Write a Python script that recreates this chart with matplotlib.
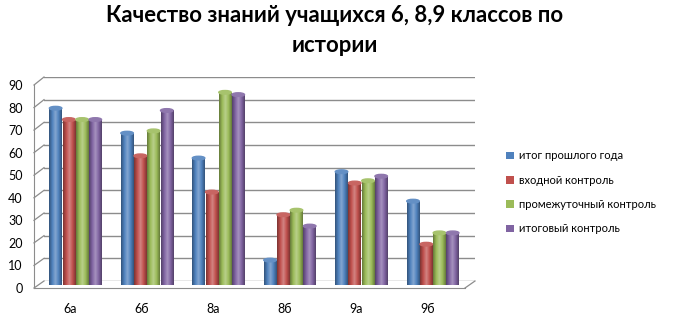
import numpy as np
import matplotlib
matplotlib.use("Agg")
import matplotlib.pyplot as plt
from matplotlib.colors import LinearSegmentedColormap, to_rgb
from matplotlib.patches import Ellipse
from matplotlib.lines import Line2D

categories = ["6а", "6б", "8а", "8б", "9а", "9б"]
series_names = ["итог прошлого года", "входной контроль", "промежуточный контроль", "итоговый контроль"]
itog_proshlogo = [78, 67, 56, 11, 50, 37]
vhodnoy = [73, 57, 41, 31, 45, 18]
promezhut = [73, 68, 85, 33, 46, 23]
itogovy = [73, 77, 84, 26, 48, 23]
series = [itog_proshlogo, vhodnoy, promezhut, itogovy]
colors = ["#4F81BD", "#C0504D", "#9BBB59", "#8064A2"]
yticks = list(range(0, 91, 10))

plt.rcParams["font.family"] = ["Lato", "DejaVu Sans"]

W, H = 680, 323
fig = plt.figure(figsize=(W / 100, H / 100), dpi=100)


def rect(x0, x1, ybot, ytop):
    return [x0 / W, (H - ybot) / H, (x1 - x0) / W, (ybot - ytop) / H]


XLIM = (-0.51, 5.52)
YLIM = (0, 90)
GRID = "#8C8C8C"

# back wall (gridlines)
ax_back = fig.add_axes(rect(44, 475, 281, 77), zorder=0)
ax_back.set_xlim(*XLIM)
ax_back.set_ylim(*YLIM)
ax_back.set_yticks(yticks)
ax_back.set_xticks([])
ax_back.grid(axis="y", color=GRID, linewidth=1.0)
ax_back.tick_params(length=0, labelleft=False)
for s in ax_back.spines.values():
    s.set_visible(False)
ax_back.patch.set_alpha(0)

# front frame (tick labels, wall edges)
ax_front = fig.add_axes(rect(34, 465, 288, 85), zorder=1)
ax_front.set_xlim(*XLIM)
ax_front.set_ylim(*YLIM)
ax_front.set_yticks(yticks)
x = np.arange(len(categories))
ax_front.set_xticks(x)
ax_front.set_xticklabels(categories)
for s in ["top", "right"]:
    ax_front.spines[s].set_visible(False)
ax_front.spines["left"].set_color(GRID)
ax_front.spines["bottom"].set_color(GRID)
ax_front.tick_params(axis="both", length=0, labelsize=9, colors="black")
ax_front.tick_params(axis="y", pad=8)
ax_front.tick_params(axis="x", pad=11)
ax_front.patch.set_alpha(0)

# diagonal connectors between front and back walls
def fy(v, ybot, ytop):
    return ybot - (v - YLIM[0]) / (YLIM[1] - YLIM[0]) * (ybot - ytop)

for v in yticks:
    yf = fy(v, 288, 85)
    yb = fy(v, 281, 77)
    fig.add_artist(Line2D([34 / W, 44 / W], [(H - yf) / H, (H - yb) / H],
                          color=GRID, linewidth=0.9, zorder=0.5))
fig.add_artist(Line2D([465 / W, 475 / W], [(H - 288) / H, (H - 281) / H],
                      color=GRID, linewidth=0.9, zorder=0.5))

# bars (mid depth)
ax = fig.add_axes(rect(39, 470, 285, 81), zorder=2)
ax.set_xlim(*XLIM)
ax.set_ylim(*YLIM)
ax.axis("off")

bw = 0.175
offs = (np.arange(4) - 1.5) * (bw + 0.01)
for si, (vals, col) in enumerate(zip(series, colors)):
    base = np.array(to_rgb(col))
    dark = base * 0.65
    light = np.clip(base + (1 - base) * 0.3, 0, 1)
    cmap = LinearSegmentedColormap.from_list("c%d" % si, [dark, base, light, base, dark])
    bars = ax.bar(x + offs[si], vals, width=bw, color=col, label=series_names[si], zorder=3)
    for b, v in zip(bars, vals):
        x0 = b.get_x()
        grad = np.linspace(0, 1, 64).reshape(1, -1)
        im = ax.imshow(grad, extent=[x0, x0 + bw, 0, v], cmap=cmap, aspect="auto", zorder=3.1)
        im.set_clip_path(b)
        cap = np.clip(base + (1 - base) * 0.12, 0, 1)
        ax.add_patch(Ellipse((x0 + bw / 2, v), bw, 1.6, color=tuple(cap), zorder=3.2))

fig.text(335 / W, 1 - 15 / H, "Качество знаний учащихся 6, 8,9 классов по",
         ha="center", va="center", fontsize=15.9, fontweight="bold")
fig.text(335 / W, 1 - 45 / H, "истории", ha="center", va="center", fontsize=15.9, fontweight="bold")

handles, labels = ax.get_legend_handles_labels()
fig.legend(handles, labels, loc="upper left", bbox_to_anchor=(502 / W, 1 - 146 / H), frameon=False,
           fontsize=8, labelspacing=1.2, handlelength=0.7, handleheight=0.7,
           handletextpad=0.4, borderaxespad=0)

fig.savefig("out.png", dpi=100)
